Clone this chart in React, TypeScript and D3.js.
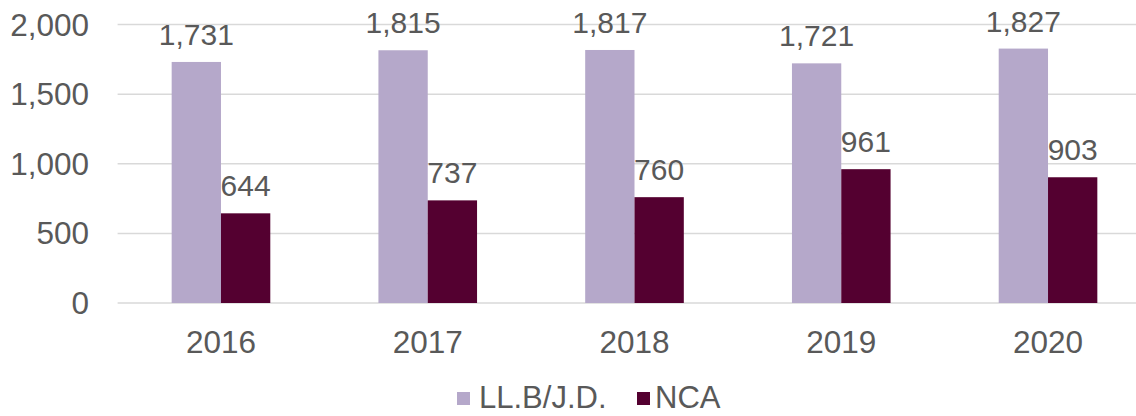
import React from "react";
import * as d3 from "d3";

const years = ["2016", "2017", "2018", "2019", "2020"];
const seriesNames = ["LL.B/J.D.", "NCA"];
const llbValues = [1731, 1815, 1817, 1721, 1827];
const ncaValues = [644, 737, 760, 961, 903];
const yTicks = [0, 500, 1000, 1500, 2000];
const colors = ["#B5A8CA", "#540030"];

const W = 1136;
const H = 416;
const FONT = "'Liberation Sans', Arial, sans-serif";
const TEXT = "#595959";

export default function App() {
  const y = d3.scaleLinear().domain([0, 2000]).range([303, 24.5]);
  const x0 = d3
    .scaleBand<string>()
    .domain(years)
    .range([117.6, 1151.4])
    .paddingInner(0.523)
    .paddingOuter(0.2615);
  const x1 = d3
    .scaleBand<string>()
    .domain(seriesNames)
    .range([0, x0.bandwidth()])
    .padding(0);
  const fmt = d3.format(",");
  const series = [llbValues, ncaValues];

  return (
    <div style={{ position: "fixed", left: 0, top: 0 }}>
      <svg width={W} height={H} style={{ display: "block", background: "#fff" }}>
        {yTicks.map((t) => (
          <g key={t}>
            <line x1={117.6} x2={W} y1={y(t)} y2={y(t)} stroke="#D9D9D9" strokeWidth={1.5} />
            <text
              x={89}
              y={y(t)}
              textAnchor="end"
              dominantBaseline="central"
              fontFamily={FONT}
              fontSize={31.5}
              fill={TEXT}
            >
              {fmt(t)}
            </text>
          </g>
        ))}
        {years.map((yr, i) => (
          <g key={yr} transform={`translate(${x0(yr)},0)`}>
            {seriesNames.map((s, j) => {
              const v = series[j][i];
              const bx = x1(s)!;
              return (
                <g key={s}>
                  <rect
                    x={bx}
                    y={y(v)}
                    width={x1.bandwidth()}
                    height={y(0) - y(v)}
                    fill={colors[j]}
                  />
                  <text
                    x={bx + x1.bandwidth() / 2}
                    y={y(v) - 17}
                    textAnchor="middle"
                    fontFamily={FONT}
                    fontSize={30}
                    fill={TEXT}
                  >
                    {fmt(v)}
                  </text>
                </g>
              );
            })}
            <text
              x={x0.bandwidth() / 2}
              y={352.5}
              textAnchor="middle"
              fontFamily={FONT}
              fontSize={31.5}
              fill={TEXT}
            >
              {yr}
            </text>
          </g>
        ))}
        <g>
          <rect x={457} y={392} width={13} height={13} fill={colors[0]} />
          <text x={479} y={408} fontFamily={FONT} fontSize={31} fill={TEXT}>
            {seriesNames[0]}
          </text>
          <rect x={637} y={392} width={13} height={13} fill={colors[1]} />
          <text x={655} y={408} fontFamily={FONT} fontSize={31} fill={TEXT}>
            {seriesNames[1]}
          </text>
        </g>
      </svg>
    </div>
  );
}
